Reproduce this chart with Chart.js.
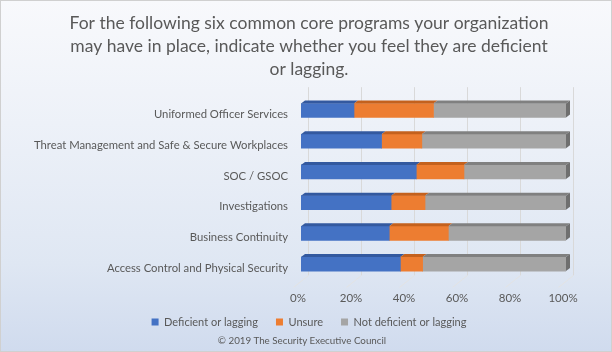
<!DOCTYPE html>
<html>
<head>
<meta charset="utf-8">
<script src="https://cdn.jsdelivr.net/npm/chart.js@4"></script>
<style>
  html, body { margin: 0; padding: 0; }
  #wrap {
    position: relative;
    width: 612px;
    height: 352px;
    box-sizing: border-box;
    border: 1px solid #d0d0d0;
    background: linear-gradient(to bottom, #f8f9fc 0%, #edf1f8 35%, #dfe7f3 75%, #d0dbee 100%);
  }
  #chart { position: absolute; left: 0; top: 0; }
  #footer {
    position: absolute;
    left: 0;
    top: 333px;
    width: 602px;
    text-align: center;
    font: 9.8px Lato, sans-serif;
    color: #595959;
  }
</style>
</head>
<body>
<div id="wrap">
  <canvas id="chart" width="612" height="352"></canvas>
  <div id="footer">© 2019 The Security Executive Council</div>
</div>
<script>
const programs = [
    "Uniformed Officer Services",
    "Threat Management and Safe & Secure Workplaces",
    "SOC / GSOC",
    "Investigations",
    "Business Continuity",
    "Access Control and Physical Security"
];
const deficient = [20, 30.4, 43.5, 34, 33.3, 37.5];
const unsure = [30, 15.2, 18, 12.8, 22.3, 8.4];
const notDeficient = [50, 54.4, 38.5, 53.2, 44.4, 54.1];
const tickValues = [0, 20, 40, 60, 80, 100];

const textColor = "#595959";
const depth = { dx: 4, dy: 3, wall: 7 };

// fake 3d: back wall gridlines + floor lines
const wallGrid = {
    id: "wallGrid",
    beforeDatasetsDraw(chart) {
        const ctx = chart.ctx;
        const xScale = chart.scales.x;
        const area = chart.chartArea;
        ctx.save();
        ctx.lineWidth = 1;
        tickValues.forEach(v => {
            const px = Math.round(xScale.getPixelForValue(v) + depth.wall) + 0.5;
            ctx.strokeStyle = "#d9d9d9";
            ctx.beginPath();
            ctx.moveTo(px, area.top - 8);
            ctx.lineTo(px, area.bottom - 4);
            ctx.stroke();
            ctx.strokeStyle = "#e3e3e3";
            ctx.beginPath();
            ctx.moveTo(px, area.bottom - 4);
            ctx.lineTo(px - 15, area.bottom + 8);
            ctx.stroke();
        });
        ctx.restore();
    }
};

// top and right faces of the bars
const barDepth = {
    id: "barDepth",
    afterDatasetsDraw(chart) {
        const ctx = chart.ctx;
        const last = chart.data.datasets.length - 1;
        ctx.save();
        chart.data.datasets.forEach((ds, i) => {
            const meta = chart.getDatasetMeta(i);
            meta.data.forEach(bar => {
                const { x, y, base, height } = bar.getProps(["x", "y", "base", "height"], true);
                const top = y - height / 2;
                ctx.fillStyle = ds.topColor;
                ctx.beginPath();
                ctx.moveTo(base, top);
                ctx.lineTo(x, top);
                ctx.lineTo(x + depth.dx, top - depth.dy);
                ctx.lineTo(base + depth.dx, top - depth.dy);
                ctx.closePath();
                ctx.fill();
                if (i === last) {
                    ctx.fillStyle = ds.sideColor;
                    ctx.beginPath();
                    ctx.moveTo(x, top);
                    ctx.lineTo(x + depth.dx, top - depth.dy);
                    ctx.lineTo(x + depth.dx, top + height - depth.dy);
                    ctx.lineTo(x, top + height);
                    ctx.closePath();
                    ctx.fill();
                }
            });
        });
        ctx.restore();
    }
};

const ctx = document.getElementById("chart");
new Chart(ctx, {
    type: "bar",
    data: {
        labels: programs,
        datasets: [
            {
                label: "Deficient or lagging",
                data: deficient,
                backgroundColor: "#4472C4",
                topColor: "#33599f",
                sideColor: "#33599f"
            },
            {
                label: "Unsure",
                data: unsure,
                backgroundColor: "#ED7D31",
                topColor: "#c4611d",
                sideColor: "#c4611d"
            },
            {
                label: "Not deficient or lagging",
                data: notDeficient,
                backgroundColor: "#A5A5A5",
                topColor: "#808080",
                sideColor: "#6f6f6f"
            }
        ]
    },
    options: {
        indexAxis: "y",
        responsive: false,
        animation: false,
        barThickness: 14,
        layout: {
            padding: { left: 12, right: 8, top: 0, bottom: 15.5 }
        },
        plugins: {
            title: {
                display: true,
                text: [
                    "For the following six common core programs your organization",
                    "may have in place, indicate whether you feel they are deficient",
                    "or lagging."
                ],
                color: textColor,
                font: { family: "Lato", size: 17.5, weight: "normal", lineHeight: 1.314 },
                padding: { top: 10.5, bottom: 14.7 }
            },
            legend: {
                position: "bottom",
                labels: {
                    color: textColor,
                    font: { family: "Lato", size: 11 },
                    boxWidth: 7,
                    boxHeight: 7,
                    padding: 18
                }
            },
            tooltip: { enabled: false }
        },
        scales: {
            x: {
                stacked: true,
                min: 0,
                max: 100,
                grid: { display: false, drawTicks: false },
                border: { display: false },
                ticks: {
                    stepSize: 20,
                    color: textColor,
                    font: { family: "Lato", size: 11.5 },
                    // mirrored with negative padding so the labels sit below the
                    // axis box without being clipped to it
                    mirror: true,
                    padding: -25.5,
                    labelOffset: -3,
                    callback: v => v + "%"
                },
                afterFit(scale) {
                    scale.height = 19.1;
                }
            },
            y: {
                stacked: true,
                grid: { display: false, drawTicks: false },
                border: { display: false },
                ticks: {
                    color: textColor,
                    font: { family: "Lato", size: 11.3 },
                    padding: 13,
                    labelOffset: 4
                },
                afterFit(scale) {
                    scale.width = 288;
                }
            },
            // empty axis on the right, just keeps room for the depth of the bars
            yRight: {
                type: "category",
                position: "right",
                grid: { display: false, drawTicks: false },
                border: { display: false },
                ticks: { display: false },
                afterFit(scale) {
                    scale.width = 39;
                }
            }
        }
    },
    plugins: [wallGrid, barDepth]
});
</script>
</body>
</html>
